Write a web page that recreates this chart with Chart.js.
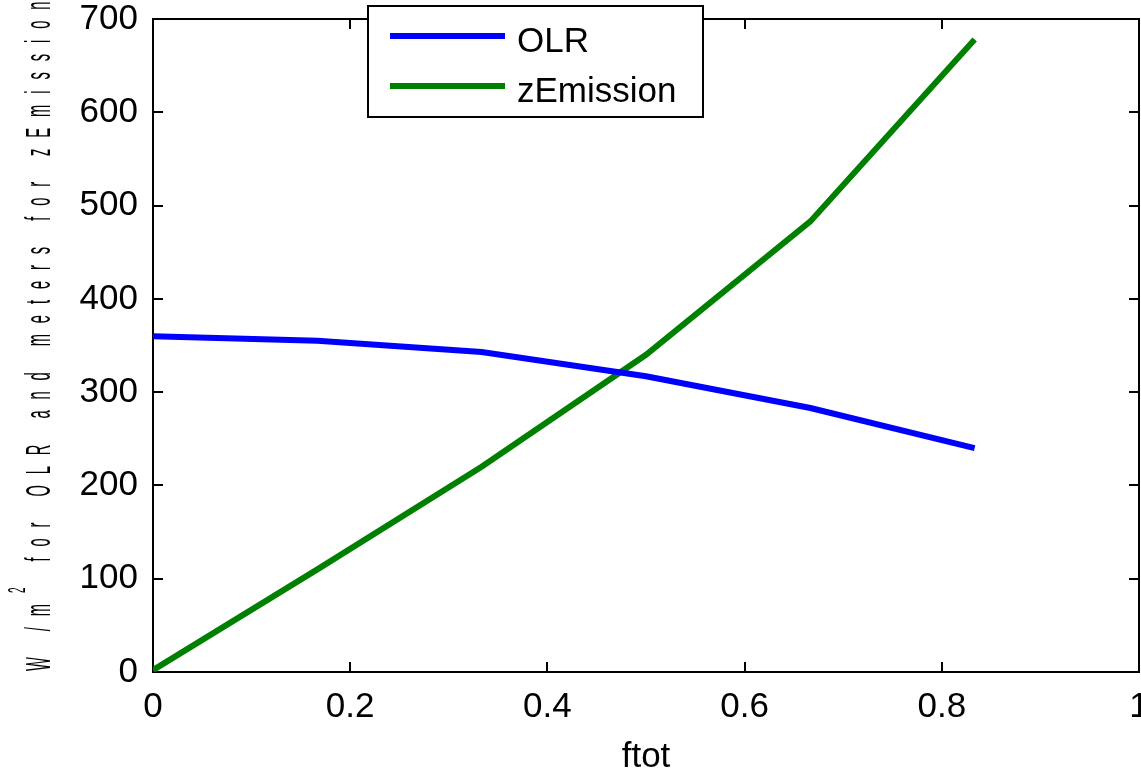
<!DOCTYPE html>
<html>
<head>
<meta charset="utf-8">
<script src="https://cdn.jsdelivr.net/npm/chart.js@4"></script>
<style>
  body { margin: 0; background: #fff; }
  canvas { display: block; }
</style>
</head>
<body>
<canvas id="chart" width="1141" height="771"></canvas>
<script>
const ftot = [0, 0.1667, 0.3333, 0.5, 0.6667, 0.8333];
const olr = [360, 355, 343, 317, 283, 240];
const zEmission = [2, 110, 220, 340, 483, 678];
const seriesNames = ["OLR", "zEmission"];
const seriesColors = ["#0000ff", "#008000"];
const xLabel = "ftot";
const yLabelParts = ["W /m", "2", " for OLR and meters for zEmission"];

const FONT = "'Liberation Sans', Arial, sans-serif";

// box around the axes with inward ticks, matlab style
const frame = {
  id: "frame",
  beforeDatasetsDraw(chart) {
    const { ctx, chartArea: a, scales: { x, y } } = chart;
    ctx.save();
    ctx.strokeStyle = "#000";
    ctx.lineWidth = 2;
    ctx.strokeRect(a.left, a.top, a.width, a.height);
    ctx.beginPath();
    x.ticks.forEach(t => {
      const px = Math.round(x.getPixelForValue(t.value));
      ctx.moveTo(px, a.bottom); ctx.lineTo(px, a.bottom - 10);
      ctx.moveTo(px, a.top); ctx.lineTo(px, a.top + 10);
    });
    y.ticks.forEach(t => {
      const py = Math.round(y.getPixelForValue(t.value));
      ctx.moveTo(a.left, py); ctx.lineTo(a.left + 10, py);
      ctx.moveTo(a.right, py); ctx.lineTo(a.right - 10, py);
    });
    ctx.stroke();
    ctx.restore();
  }
};

const boxLegend = {
  id: "boxLegend",
  afterDraw(chart) {
    const { ctx, chartArea: a } = chart;
    const left = a.left + 215, top = 6, w = 335, h = 111;
    ctx.save();
    ctx.fillStyle = "#fff";
    ctx.fillRect(left, top, w, h);
    ctx.strokeStyle = "#000";
    ctx.lineWidth = 2;
    ctx.strokeRect(left, top, w, h);
    chart.data.datasets.forEach((ds, i) => {
      const ly = top + 30 + i * 50;
      ctx.strokeStyle = ds.borderColor;
      ctx.lineWidth = 6;
      ctx.beginPath();
      ctx.moveTo(left + 22, ly);
      ctx.lineTo(left + 137, ly);
      ctx.stroke();
      ctx.fillStyle = "#000";
      ctx.font = "35px " + FONT;
      ctx.textBaseline = "alphabetic";
      ctx.fillText(ds.label, left + 149, ly + 16);
    });
    ctx.restore();
  }
};

// condensed, letter-spaced y label like the original export
const yTitle = {
  id: "yTitle",
  afterDraw(chart) {
    const ctx = chart.ctx;
    ctx.save();
    ctx.translate(50, 671);
    ctx.rotate(-Math.PI / 2);
    ctx.scale(0.42, 1);
    ctx.fillStyle = "#000";
    ctx.letterSpacing = "26px";
    let pos = 0;
    yLabelParts.forEach((part, i) => {
      const sup = i === 1;
      ctx.font = (sup ? "24px " : "35px ") + FONT;
      ctx.fillText(part, pos, sup ? -25 : 0);
      pos += ctx.measureText(part).width;
    });
    ctx.restore();
  }
};

new Chart(document.getElementById("chart"), {
  type: "line",
  data: {
    datasets: [
      { label: seriesNames[0], data: ftot.map((x, i) => ({ x, y: olr[i] })), borderColor: seriesColors[0] },
      { label: seriesNames[1], data: ftot.map((x, i) => ({ x, y: zEmission[i] })), borderColor: seriesColors[1] },
    ],
  },
  options: {
    responsive: false,
    animation: false,
    layout: { padding: { top: 19, right: 2, left: 0, bottom: 0 } },
    elements: {
      line: { borderWidth: 6, tension: 0, borderCapStyle: "butt", fill: false },
      point: { radius: 0 },
    },
    plugins: { legend: { display: false }, tooltip: { enabled: false } },
    scales: {
      x: {
        type: "linear", min: 0, max: 1,
        grid: { display: false, drawTicks: false },
        border: { display: false },
        ticks: {
          stepSize: 0.2, padding: 14, color: "#000", maxRotation: 0,
          font: { family: FONT, size: 35 },
          callback: v => String(+v.toFixed(1)),
        },
        title: { display: true, text: xLabel, color: "#000", font: { family: FONT, size: 35 }, padding: { top: 0, bottom: -7 } },
        afterFit(s) { s.height = 99; s.paddingLeft = 0; s.paddingRight = 0; },
      },
      y: {
        min: 0, max: 700,
        grid: { display: false, drawTicks: false },
        border: { display: false },
        ticks: { stepSize: 100, padding: 15, color: "#000", font: { family: FONT, size: 35 } },
        afterFit(s) { s.width = 153; s.paddingTop = 0; s.paddingBottom = 0; },
      },
    },
  },
  plugins: [frame, boxLegend, yTitle],
});
</script>
</body>
</html>
